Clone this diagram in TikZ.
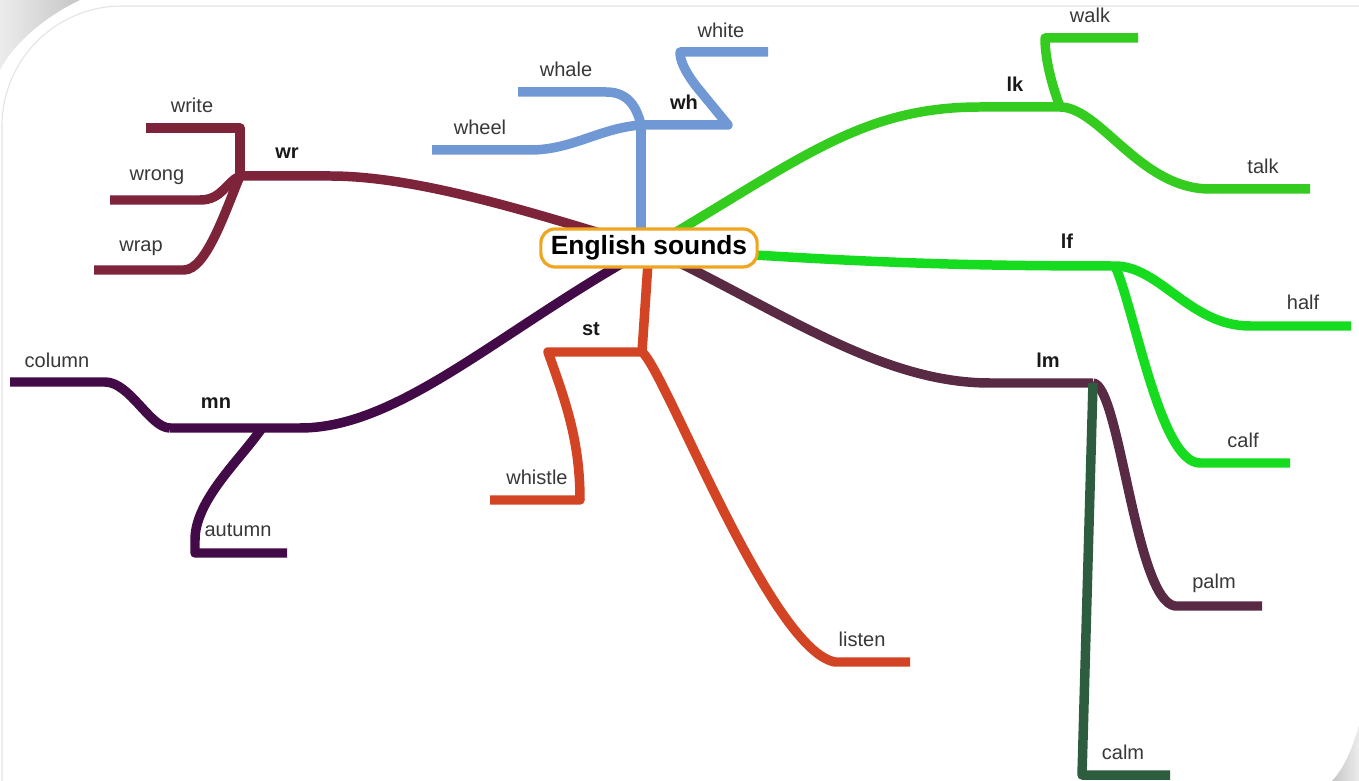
\documentclass[tikz,border=0pt]{standalone}
\usepackage{fontspec}
\setmainfont{Liberation Sans}
\usetikzlibrary{backgrounds}
\definecolor{wrcol}{RGB}{126,36,58}
\definecolor{whcol}{RGB}{112,152,212}
\definecolor{lkcol}{RGB}{52,204,30}
\definecolor{lfcol}{RGB}{22,220,32}
\definecolor{lmcol}{RGB}{88,42,68}
\definecolor{calmcol}{RGB}{46,92,62}
\definecolor{stcol}{RGB}{210,68,36}
\definecolor{mncol}{RGB}{66,10,70}
\definecolor{rootcol}{RGB}{240,165,30}
\tikzset{
  branch/.style={line width=5.4pt,line join=round},
  word/.style={font=\fontsize{11.4}{13}\selectfont,text=black!78,inner sep=1pt},
  sound/.style={font=\fontsize{11.4}{13}\selectfont\bfseries,text=black!90,inner sep=1pt},
}
\begin{document}
\begin{tikzpicture}[x=0.2mm,y=-0.2mm]
\useasboundingbox (0,0) rectangle (1359,781);
\node[draw=rootcol,line width=1.8pt,fill=white,rounded corners=2.8mm,inner xsep=2mm,minimum height=7.6mm,font=\fontsize{15}{17}\selectfont\bfseries] (root) at (649,248) {English sounds};
\coordinate (wr) at (240,176);
\coordinate (wh) at (641,125);
\coordinate (lk) at (1060,107);
\coordinate (lf) at (1115,266);
\coordinate (lm) at (1093,383);
\coordinate (st) at (642,352);
\coordinate (mn) at (170,428);
\coordinate (mnfork) at (262,428);
\coordinate (write) at (146,128);
\coordinate (wrong) at (110,200);
\coordinate (wrap) at (94,270);
\coordinate (whale) at (518,92);
\coordinate (wheel) at (432,150);
\coordinate (white) at (768,52);
\coordinate (walk) at (1138,38);
\coordinate (talk) at (1310,189);
\coordinate (half) at (1351,326);
\coordinate (calf) at (1290,463);
\coordinate (palm) at (1262,606);
\coordinate (calm) at (1170,775);
\coordinate (whistle) at (490,500);
\coordinate (listen) at (910,662);
\coordinate (column) at (10,382);
\coordinate (autumn) at (287,553);
\begin{scope}[on background layer]
\fill[white] (0,0) rectangle (1359,781);
\shade[left color=gray!15,right color=gray!45] (0,0) -- (80,0) .. controls (42,18) and (12,46) .. (0,70) -- cycle;
\shade[left color=gray!45,right color=gray!15] (1359,725) .. controls (1352,750) and (1344,768) .. (1332,781) -- (1359,781) -- cycle;
\draw[gray!22,line width=0.6pt,rounded corners=24mm] (2,800) -- (2,6) -- (1380,6);
\draw[branch,wrcol] (root.center) .. controls (540,215) and (420,176) .. (330,176) -- (wr);
\draw[branch,wrcol] (wr) |- (write);
\draw[branch,wrcol] (wr) .. controls (226,182) and (222,200) .. (200,200) -- (wrong);
\draw[branch,wrcol] (wr) .. controls (225,212) and (206,270) .. (184,270) -- (wrap);
\draw[branch,whcol] (wh |- root.center) -- (wh);
\draw[branch,whcol] (wh) .. controls (636,104) and (626,92) .. (606,92) -- (whale);
\draw[branch,whcol] (wh) .. controls (600,128) and (572,150) .. (530,150) -- (wheel);
\draw[branch,whcol] (wh) -- (728,125) -- (696,86) .. controls (684,70) and (680,60) .. (680,52) -- (white);
\draw[branch,lkcol] (root.center) .. controls (800,160) and (860,107) .. (980,107) -- (lk);
\draw[branch,lkcol] (lk) .. controls (1050,80) and (1045,56) .. (1045,38) -- (walk);
\draw[branch,lkcol] (lk) .. controls (1100,107) and (1140,189) .. (1210,189) -- (talk);
\draw[branch,lfcol] (root.center) .. controls (850,262) and (950,266) .. (lf);
\draw[branch,lfcol] (lf) .. controls (1160,266) and (1190,326) .. (1250,326) -- (half);
\draw[branch,lfcol] (lf) .. controls (1135,310) and (1160,463) .. (1200,463) -- (calf);
\draw[branch,lmcol] (root.center) .. controls (780,310) and (880,383) .. (990,383) -- (lm);
\draw[branch,lmcol] (lm) .. controls (1120,385) and (1135,600) .. (1175,606) -- (palm);
\draw[branch,calmcol] (lm) -- (1082,775) -- (calm);
\draw[branch,stcol] (root.center) -- (st);
\draw[branch,stcol] (st) -- (548,352) .. controls (565,400) and (580,440) .. (580,500) -- (whistle);
\draw[branch,stcol] (st) .. controls (665,370) and (770,650) .. (835,662) -- (listen);
\draw[branch,mncol] (root.center) .. controls (500,330) and (400,428) .. (300,428) -- (mn);
\draw[branch,mncol] (mn) .. controls (150,428) and (130,382) .. (105,382) -- (column);
\draw[branch,mncol] (mnfork) .. controls (240,460) and (195,500) .. (195,540) -- (195,553) -- (autumn);
\end{scope}
\node[sound] (lwr) at (287,153) {wr};
\node[sound] (lwh) at (684,102) {wh};
\node[sound] (llk) at (1015,84) {lk};
\node[sound] (llf) at (1067,241) {lf};
\node[sound] (llm) at (1048,360) {lm};
\node[sound] (lst) at (591,329) {st};
\node[sound] (lmn) at (216,403) {mn};
\node[word] (lwrite) at (192,105) {write};
\node[word] (lwrong) at (157,177) {wrong};
\node[word] (lwrap) at (141,248) {wrap};
\node[word] (lwhale) at (566,69) {whale};
\node[word] (lwheel) at (480,127) {wheel};
\node[word] (lwhite) at (721,30) {white};
\node[word] (lwalk) at (1090,15) {walk};
\node[word] (ltalk) at (1263,166) {talk};
\node[word] (lhalf) at (1303,302) {half};
\node[word] (lcalf) at (1243,440) {calf};
\node[word] (lpalm) at (1214,583) {palm};
\node[word] (lcalm) at (1123,752) {calm};
\node[word] (lwhistle) at (537,477) {whistle};
\node[word] (llisten) at (862,639) {listen};
\node[word] (lcolumn) at (57,360) {column};
\node[word] (lautumn) at (238,530) {autumn};
\end{tikzpicture}
\end{document}
